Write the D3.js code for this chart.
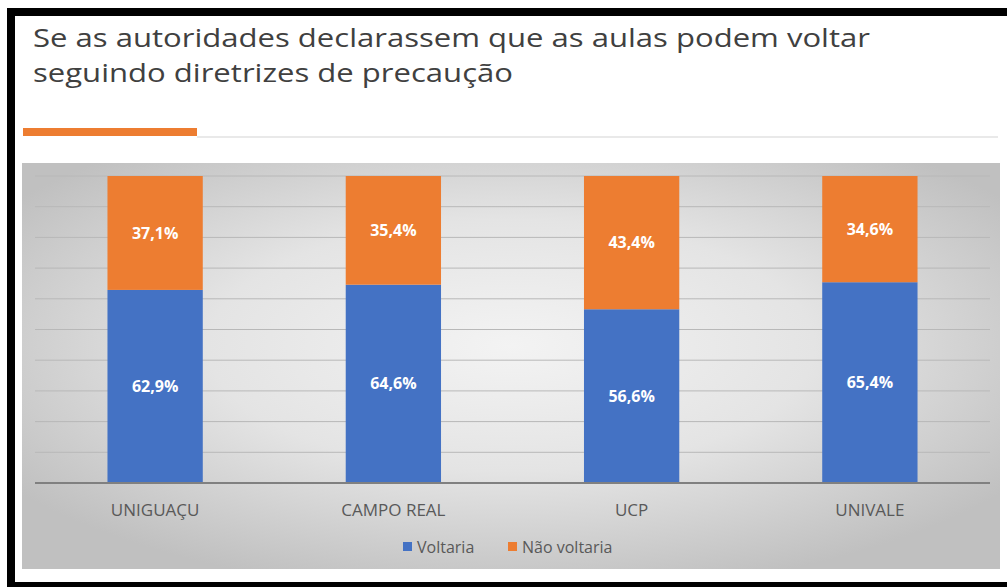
<!DOCTYPE html>
<html>
<head>
<meta charset="utf-8">
<script src="https://cdn.jsdelivr.net/npm/d3@7"></script>
<style>
  body { margin: 0; background: #fff; }
  svg { display: block; font-family: "Open Sans", "Noto Sans", sans-serif; }
</style>
</head>
<body>
<svg width="1007" height="587"></svg>
<script>
// data
const schools = ["UNIGUAÇU", "CAMPO REAL", "UCP", "UNIVALE"];
const voltaria = [62.9, 64.6, 56.6, 65.4];
const naoVoltaria = [37.1, 35.4, 43.4, 34.6];
const seriesNames = ["Voltaria", "Não voltaria"];
const seriesColors = ["#4472C4", "#ED7D31"];
const yTicks = [0, 10, 20, 30, 40, 50, 60, 70, 80, 90, 100];
const titleLines = ["Se as autoridades declarassem que as aulas podem voltar",
                    "seguindo diretrizes de precaução"];

let width = 1007,
    height = 587,
    margin = ({ top: 176, right: 18, bottom: 104, left: 36 }); // plot box inside the frame

const svg = d3.select("svg");
const fmt = v => v.toFixed(1).replace(".", ",") + "%";

// frame: black band on top, left and bottom
svg.append("rect").attr("x", 7).attr("y", 8).attr("width", width - 7).attr("height", 8).attr("fill", "#000");
svg.append("rect").attr("x", 7).attr("y", 8).attr("width", 8).attr("height", height - 8).attr("fill", "#000");
svg.append("rect").attr("x", 7).attr("y", 582).attr("width", width - 7).attr("height", 5).attr("fill", "#000");

// title: narrower face in the picture, so stretch the spacing to its width
const titleWidths = [837, 480];
svg.append("g").attr("fill", "#404040")
  .selectAll("text")
  .data(titleLines)
  .join("text")
  .attr("x", 33)
  .attr("y", (d, i) => 47 + i * 35)
  .attr("font-size", 26)
  .attr("textLength", (d, i) => titleWidths[i])
  .attr("lengthAdjust", "spacingAndGlyphs")
  .text(d => d);

// orange accent and rule
svg.append("line").attr("x1", 197).attr("x2", 998).attr("y1", 137).attr("y2", 137)
  .attr("stroke", "#d4d4d4").attr("stroke-width", 1.2);
svg.append("rect").attr("x", 23).attr("y", 128).attr("width", 174).attr("height", 8).attr("fill", "#ED7D31");

// chart background with radial grey gradient
const defs = svg.append("defs");
const grad = defs.append("radialGradient").attr("id", "bg")
  .attr("cx", "50%").attr("cy", "45%").attr("r", "62%");
grad.append("stop").attr("offset", "0%").attr("stop-color", "#f3f3f3");
grad.append("stop").attr("offset", "50%").attr("stop-color", "#e4e4e4");
grad.append("stop").attr("offset", "100%").attr("stop-color", "#c0c0c0");
svg.append("rect").attr("x", 22).attr("y", 163).attr("width", 978).attr("height", 406)
  .attr("fill", "url(#bg)");

// scales
const xScale = d3.scaleBand()
  .domain(schools)
  .range([margin.left, width - margin.right])
  .paddingInner(0.6)
  .paddingOuter(0.3);

const yScale = d3.scaleLinear()
  .domain([0, 100])
  .range([height - margin.bottom, margin.top]);

// gridlines
const xL = 35, xR = 990;
svg.append("g").selectAll("line")
  .data(yTicks.slice(1))
  .join("line")
  .attr("x1", xL).attr("x2", xR)
  .attr("y1", d => yScale(d)).attr("y2", d => yScale(d))
  .attr("stroke", "#b8b8b8").attr("stroke-width", 1);

// stacked bars
const rows = schools.map((s, i) => ({ school: s, Voltaria: voltaria[i], "Não voltaria": naoVoltaria[i] }));
const stacked = d3.stack().keys(seriesNames)(rows);

const layers = svg.append("g").selectAll("g")
  .data(stacked)
  .join("g")
  .attr("fill", (d, i) => seriesColors[i]);

layers.selectAll("rect")
  .data(d => d)
  .join("rect")
  .attr("x", d => xScale(d.data.school))
  .attr("y", d => yScale(d[1]))
  .attr("width", xScale.bandwidth())
  .attr("height", d => yScale(d[0]) - yScale(d[1]));

layers.selectAll("text")
  .data(d => d)
  .join("text")
  .attr("x", d => xScale(d.data.school) + xScale.bandwidth() / 2)
  .attr("y", d => (yScale(d[0]) + yScale(d[1])) / 2)
  .attr("dy", "0.35em")
  .attr("text-anchor", "middle")
  .attr("fill", "#fff")
  .attr("font-size", 16)
  .attr("font-weight", "bold")
  .text(d => fmt(d[1] - d[0]));

// x axis
const xAxis = d3.axisBottom(xScale).tickSize(0).tickPadding(21);
const gx = svg.append("g")
  .attr("transform", `translate(0,${height - margin.bottom})`)
  .call(xAxis);
gx.select(".domain").remove();
gx.selectAll("text").attr("font-size", 17).attr("fill", "#595959")
  .attr("font-family", "\"Open Sans\", sans-serif");
svg.append("line").attr("x1", xL).attr("x2", xR)
  .attr("y1", yScale(0)).attr("y2", yScale(0))
  .attr("stroke", "#808080").attr("stroke-width", 2);

// legend
const legendItems = [
  { name: seriesNames[0], color: seriesColors[0], x: 403 },
  { name: seriesNames[1], color: seriesColors[1], x: 508 }
];
const lg = svg.append("g").selectAll("g")
  .data(legendItems)
  .join("g")
  .attr("transform", d => `translate(${d.x},547)`);
lg.append("rect").attr("x", 0).attr("y", -5).attr("width", 9).attr("height", 9)
  .attr("fill", d => d.color);
lg.append("text").attr("x", 14).attr("dy", "0.35em")
  .attr("font-size", 16).attr("fill", "#595959")
  .text(d => d.name);
</script>
</body>
</html>
